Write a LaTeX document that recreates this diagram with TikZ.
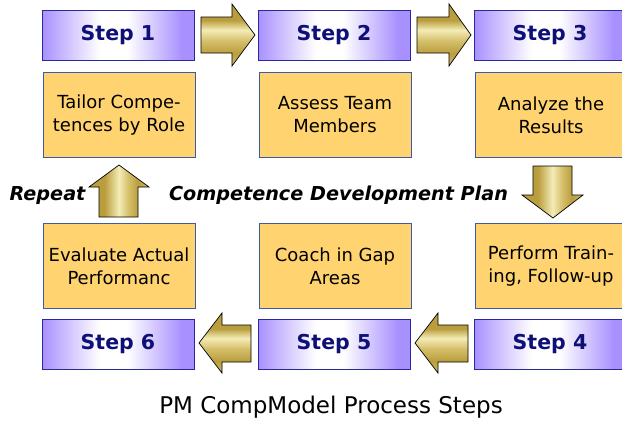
\documentclass[tikz,border=0pt]{standalone}
\usepackage{fontspec}
\setmainfont{DejaVu Sans}
\definecolor{stepborder}{RGB}{40,40,150}
\definecolor{steptext}{RGB}{15,15,120}
\definecolor{steppurple}{RGB}{168,144,255}
\definecolor{boxfill}{RGB}{255,212,112}
\definecolor{boxborder}{RGB}{60,90,170}
\definecolor{golddark}{RGB}{186,158,62}
\definecolor{goldmid}{RGB}{212,190,105}
\definecolor{goldlight}{RGB}{244,236,182}
\pgfdeclarehorizontalshading{stepshade}{100bp}{color(0bp)=(steppurple); color(25bp)=(steppurple); color(44bp)=(white); color(53bp)=(white); color(71bp)=(steppurple); color(100bp)=(steppurple)}
\pgfdeclareverticalshading{goldv}{100bp}{color(0bp)=(goldmid); color(25bp)=(goldmid); color(35bp)=(golddark); color(45bp)=(goldmid); color(54bp)=(goldlight); color(62bp)=(golddark); color(75bp)=(golddark); color(100bp)=(golddark)}
\pgfdeclarehorizontalshading{goldh}{100bp}{color(0bp)=(golddark); color(25bp)=(golddark); color(38bp)=(golddark); color(50bp)=(goldlight); color(58bp)=(goldmid); color(66bp)=(golddark); color(75bp)=(goldmid); color(100bp)=(goldmid)}
\tikzset{
  stepbox/.style={draw=stepborder, line width=0.9pt, shading=stepshade, minimum width=152pt, minimum height=50pt, inner sep=0pt, text=steptext, font=\fontsize{20.5}{24}\selectfont\bfseries},
  taskbox/.style={draw=boxborder, line width=0.9pt, fill=boxfill, minimum width=152pt, minimum height=85pt, inner sep=0pt, align=center, text=black, font=\fontsize{18}{23}\selectfont},
  harrow/.style={draw=black, line width=0.7pt, shading=goldv},
  varrow/.style={draw=black, line width=0.7pt, shading=goldh},
  plantext/.style={font=\fontsize{19.2}{22}\selectfont\bfseries\itshape, text=black, inner sep=0pt, anchor=base}
}
\begin{document}
\begin{tikzpicture}[x=1pt,y=-1pt]
\useasboundingbox (0,0) rectangle (622,421);
% step boxes
\node[stepbox] (s1) at (118,35) {Step 1};
\node[stepbox] (s2) at (334,35) {Step 2};
\node[stepbox] (s3) at (550,35) {Step 3};
\node[stepbox] (s6) at (118,344) {Step 6};
\node[stepbox] (s5) at (334,344) {Step 5};
\node[stepbox] (s4) at (550,344) {Step 4};
% task boxes
\node[taskbox] (t1) at (119,115) {Tailor Compe-\\tences by Role};
\node[taskbox] (t2) at (335,115) {Assess Team\\Members};
\node[taskbox] (t3) at (551,115) {Analyze the\\Results};
\node[taskbox] (t6) at (119,266) {Evaluate Actual\\Performanc};
\node[taskbox] (t5) at (335,266) {Coach in Gap\\Areas};
\node[taskbox] (t4) at (551,266) {Perform Train-\\ing, Follow-up};
% block arrows
\path[harrow] (201,17) -- (232,17) -- (232,4) -- (255,35) -- (232,66) -- (232,53) -- (201,53) -- cycle;
\path[harrow] (417,17) -- (449,17) -- (449,4) -- (471,35) -- (449,66) -- (449,53) -- (417,53) -- cycle;
\path[harrow] (468,325) -- (438,325) -- (438,313) -- (415,343) -- (438,373) -- (438,362) -- (468,362) -- cycle;
\path[harrow] (251,325) -- (222,325) -- (222,313) -- (199,343) -- (222,373) -- (222,362) -- (251,362) -- cycle;
\path[varrow] (533,166) -- (572,166) -- (572,195) -- (583,195) -- (553,218) -- (522,195) -- (533,195) -- cycle;
\path[varrow] (99,217) -- (138,217) -- (138,187) -- (149,187) -- (119,165) -- (89,187) -- (99,187) -- cycle;
% labels
\node[plantext] (rep) at (47.5,200) {Repeat};
\node[plantext] (cdp) at (338.5,200) {Competence Development Plan};
\node[font=\fontsize{23}{27}\selectfont, inner sep=0pt, anchor=base] (title) at (331,413) {PM CompModel Process Steps};
\end{tikzpicture}
\end{document}
